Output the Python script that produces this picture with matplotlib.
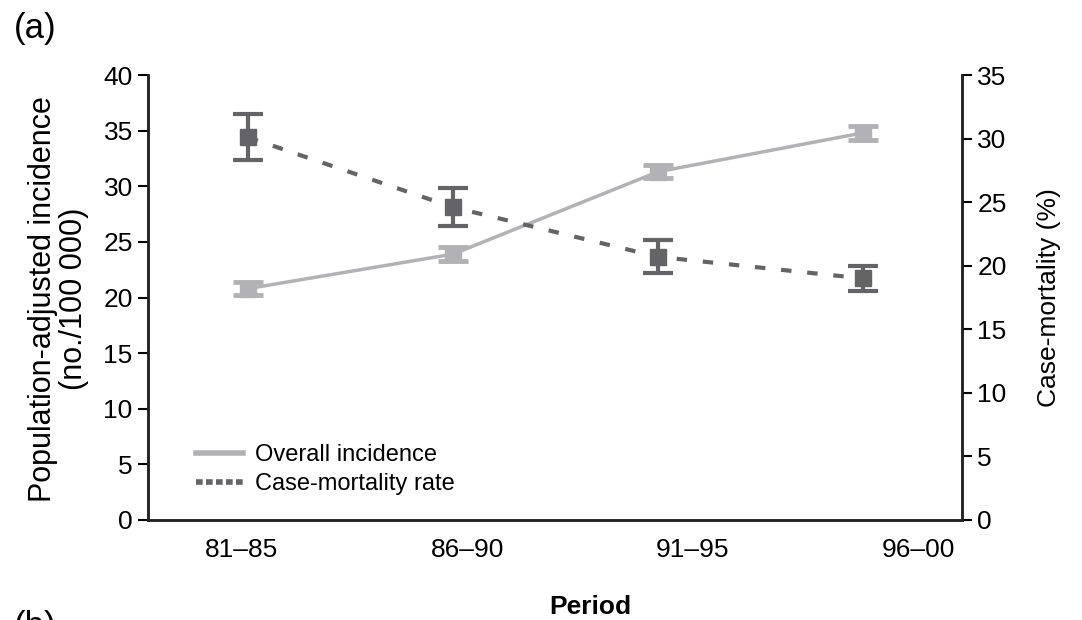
import matplotlib.pyplot as plt
from matplotlib.lines import Line2D

plt.rcParams['font.family'] = ['Liberation Sans', 'DejaVu Sans']

periods = ['81–85', '86–90', '91–95', '96–00']
incidence = [20.8, 23.9, 31.3, 34.8]
incidence_err = [0.6, 0.6, 0.6, 0.6]
mortality = [30.1, 24.6, 20.7, 19.0]
mortality_err = [1.8, 1.5, 1.3, 1.0]

light = '#b2b2b6'
dark = '#636368'

x = list(range(len(periods)))
label_pos = [-0.03, 1.07, 2.17, 3.27]

fig = plt.figure(figsize=(10.82, 6.2), dpi=100)
ax = fig.add_axes([0.1368, 0.1613, 0.7522, 0.7177])
ax2 = ax.twinx()

ax.errorbar(x, incidence, yerr=incidence_err, color=light, lw=2.5,
            marker='s', ms=11, capsize=11, capthick=3.5, elinewidth=3,
            label='Overall incidence')
ax2.errorbar(x, mortality, yerr=mortality_err, color=dark, lw=3,
             ls=(0, (2.5, 3.8)), marker='s', ms=12, capsize=11, capthick=3,
             elinewidth=3, label='Case-mortality rate')

ax.set_xlim(-0.488, 3.483)
ax.set_ylim(0, 40)
ax2.set_ylim(0, 35)
ax.set_yticks(range(0, 41, 5))
ax2.set_yticks(range(0, 36, 5))
ax.set_xticks(label_pos)
ax.set_xticklabels(periods)
ax.tick_params(axis='x', length=0, pad=13, labelsize=19)
ax.tick_params(axis='y', length=7, width=1.5, labelsize=19, direction='out', pad=4)
ax2.tick_params(axis='y', length=7, width=1.5, labelsize=19, direction='out', pad=4)

for a in (ax, ax2):
    a.spines['top'].set_visible(False)
    for s in ('left', 'right', 'bottom'):
        a.spines[s].set_linewidth(1.8)
        a.spines[s].set_color('#222222')

ax.set_ylabel('Population-adjusted incidence\n(no./100 000)', fontsize=22,
              linespacing=1.05)
ax.yaxis.set_label_coords(-0.0725, 0.497)
ax2.set_ylabel('Case-mortality (%)', fontsize=19, labelpad=22)
ax.set_xlabel('Period', fontsize=19, fontweight='bold', va='center')
ax.xaxis.set_label_coords(0.543, -0.196)

handles = [Line2D([], [], color=light, lw=4),
           Line2D([], [], color=dark, lw=4, ls=(0, (1.2, 0.6)))]
ax.legend(handles, ['Overall incidence', 'Case-mortality rate'],
          loc='lower left', bbox_to_anchor=(0.0325, 0.008), frameon=False,
          fontsize=17, handlelength=2.0, handletextpad=0.5, labelspacing=0.3)

fig.text(0.013, 0.98, '(a)', fontsize=25, va='top')
fig.text(0.013, 0.016, '(b)', fontsize=25, va='top')

plt.savefig('out.png', dpi=100)
